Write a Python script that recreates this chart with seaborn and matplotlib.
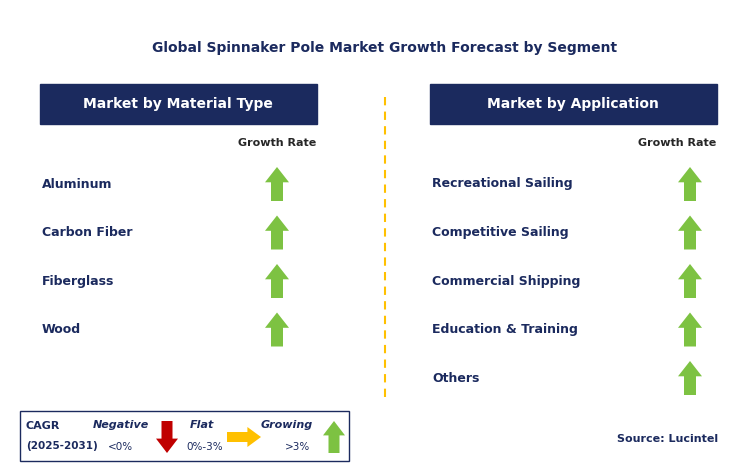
import matplotlib
matplotlib.use("Agg")
from matplotlib import pyplot as plt
from matplotlib.patches import Rectangle, FancyArrow
import seaborn as sns

# chart data
title = "Global Spinnaker Pole Market Growth Forecast by Segment"
material_header = "Market by Material Type"
material_types = ["Aluminum", "Carbon Fiber", "Fiberglass", "Wood"]
material_growth = ["growing", "growing", "growing", "growing"]
application_header = "Market by Application"
applications = ["Recreational Sailing", "Competitive Sailing", "Commercial Shipping",
                "Education & Training", "Others"]
application_growth = ["growing", "growing", "growing", "growing", "growing"]
source_text = "Source: Lucintel"

sns.set_style("white")
NAVY = "#1B2A5E"
GREEN = "#7DC242"
RED = "#C00000"
ORANGE = "#FFC000"

fig = plt.figure(figsize=(7.49, 4.69), dpi=100)
ax = fig.add_axes([0, 0, 1, 1])
ax.set_xlim(0, 749)
ax.set_ylim(469, 0)
ax.axis("off")


def up_arrow(x, y, color=GREEN, w=24, h=34):
    ax.add_patch(FancyArrow(x, y + h / 2, 0, -h, width=w * 0.5, head_width=w,
                            head_length=h * 0.45, length_includes_head=True,
                            color=color, lw=0))


def down_arrow(x, y, color=RED, w=22, h=32):
    ax.add_patch(FancyArrow(x, y - h / 2, 0, h, width=w * 0.5, head_width=w,
                            head_length=h * 0.45, length_includes_head=True,
                            color=color, lw=0))


def right_arrow(x, y, color=ORANGE, w=34, h=20):
    ax.add_patch(FancyArrow(x - w / 2, y, w, 0, width=h * 0.5, head_width=h,
                            head_length=w * 0.4, length_includes_head=True,
                            color=color, lw=0))


ax.text(385, 48, title, ha="center", va="center", fontsize=10, fontweight="bold", color=NAVY)

# left panel
ax.add_patch(Rectangle((40, 84), 277, 40, color=NAVY))
ax.text(178, 104, material_header, ha="center", va="center", color="white",
        fontsize=10, fontweight="bold")
ax.text(277, 143, "Growth Rate", ha="center", va="center", fontsize=8, fontweight="bold")
for i, (name, g) in enumerate(zip(material_types, material_growth)):
    y = 184 + i * 48.5
    ax.text(42, y, name, ha="left", va="center", fontsize=9, fontweight="bold", color=NAVY)
    up_arrow(277, y)

# right panel
ax.add_patch(Rectangle((430, 84), 287, 40, color=NAVY))
ax.text(573, 104, application_header, ha="center", va="center", color="white",
        fontsize=10, fontweight="bold")
ax.text(677, 143, "Growth Rate", ha="center", va="center", fontsize=8, fontweight="bold")
for i, (name, g) in enumerate(zip(applications, application_growth)):
    y = 184 + i * 48.5
    ax.text(432, y, name, ha="left", va="center", fontsize=9, fontweight="bold", color=NAVY)
    up_arrow(690, y)

# divider
ax.plot([385, 385], [97, 400], ls=(0, (4, 3)), color=ORANGE, lw=1.5)

# legend box
ax.add_patch(Rectangle((20, 411), 329, 50, fill=False, ec=NAVY, lw=1))
ax.text(26, 426, "CAGR", fontsize=8, fontweight="bold", color=NAVY, va="center")
ax.text(26, 446, "(2025-2031)", fontsize=7.5, fontweight="bold", color=NAVY, va="center")
ax.text(93, 425, "Negative", fontsize=8, fontweight="bold", style="italic", color=NAVY, va="center")
ax.text(108, 447, "<0%", fontsize=7.5, color=NAVY, va="center")
down_arrow(167, 437)
ax.text(190, 425, "Flat", fontsize=8, fontweight="bold", style="italic", color=NAVY, va="center")
ax.text(186, 447, "0%-3%", fontsize=7.5, color=NAVY, va="center")
right_arrow(244, 437)
ax.text(261, 425, "Growing", fontsize=8, fontweight="bold", style="italic", color=NAVY, va="center")
ax.text(285, 447, ">3%", fontsize=7.5, color=NAVY, va="center")
up_arrow(334, 437, w=22, h=32)

ax.text(617, 439, source_text, fontsize=8, fontweight="bold", color=NAVY, va="center")

fig.savefig("out.png", dpi=100)
